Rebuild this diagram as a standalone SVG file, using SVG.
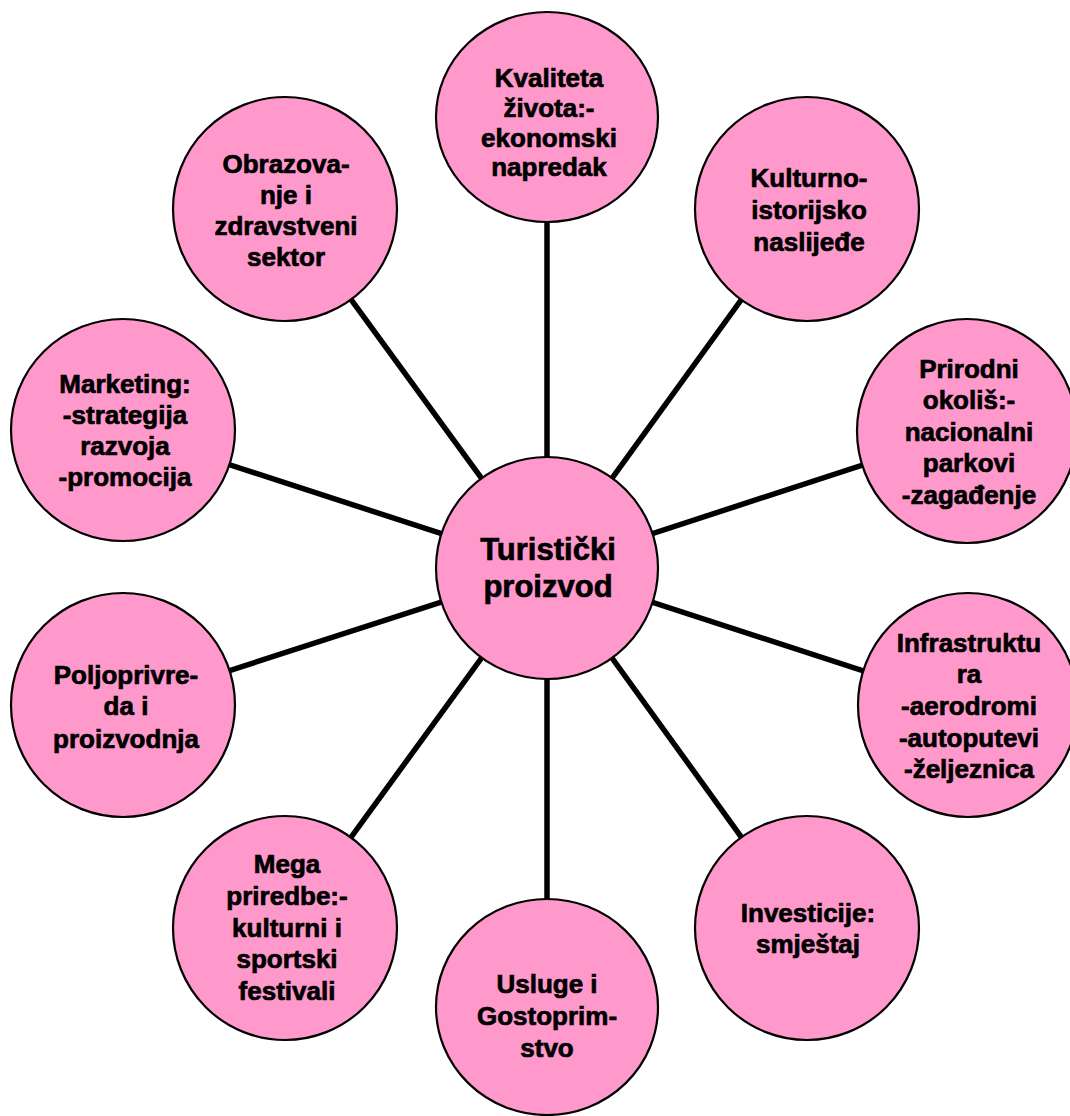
<svg xmlns="http://www.w3.org/2000/svg" width="1070" height="1116" viewBox="0 0 1070 1116">
<style>
.node{fill:#FF99CC;stroke:#000;stroke-width:2.2}
.lbl{font-family:"Liberation Sans",Arial,sans-serif;font-weight:bold;font-size:26px;fill:#000;stroke:#000;stroke-width:0.7;text-anchor:middle}
.big{font-size:31px}
.conn line{stroke:#000;stroke-width:5.5}
</style>
<rect width="1070" height="1116" fill="#fff"/>
<g id="connectors" class="conn">
<line x1="547" y1="568" x2="547" y2="117"/>
<line x1="547" y1="568" x2="807" y2="209"/>
<line x1="547" y1="568" x2="967" y2="431"/>
<line x1="547" y1="568" x2="968" y2="705"/>
<line x1="547" y1="568" x2="807" y2="928"/>
<line x1="547" y1="568" x2="547" y2="1007"/>
<line x1="547" y1="568" x2="285" y2="928"/>
<line x1="547" y1="568" x2="123" y2="705"/>
<line x1="547" y1="568" x2="123" y2="430"/>
<line x1="547" y1="568" x2="285" y2="209"/>
</g>
<g id="center">
<ellipse class="node" cx="547" cy="568" rx="111" ry="111"/>
<text class="lbl big" x="548" y="560">Turistički</text>
<text class="lbl big" x="548" y="597">proizvod</text>
</g>
<g id="kvaliteta">
<ellipse class="node" cx="547" cy="117" rx="111" ry="105"/>
<text class="lbl" x="549" y="87">Kvaliteta</text>
<text class="lbl" x="549" y="117">života:-</text>
<text class="lbl" x="549" y="147">ekonomski</text>
<text class="lbl" x="549" y="176">napredak</text>
</g>
<g id="kulturno">
<ellipse class="node" cx="807" cy="209" rx="112" ry="112"/>
<text class="lbl" x="809" y="187">Kulturno-</text>
<text class="lbl" x="809" y="219">istorijsko</text>
<text class="lbl" x="809" y="251">naslijeđe</text>
</g>
<g id="prirodni">
<ellipse class="node" cx="967" cy="431" rx="110" ry="112"/>
<text class="lbl" x="969" y="378">Prirodni</text>
<text class="lbl" x="969" y="409">okoliš:-</text>
<text class="lbl" x="969" y="441">nacionalni</text>
<text class="lbl" x="969" y="472">parkovi</text>
<text class="lbl" x="969" y="504">-zagađenje</text>
</g>
<g id="infrastruktura">
<ellipse class="node" cx="968" cy="705" rx="110" ry="112"/>
<text class="lbl" x="969" y="652">Infrastruktu</text>
<text class="lbl" x="969" y="683">ra</text>
<text class="lbl" x="969" y="715">-aerodromi</text>
<text class="lbl" x="969" y="747">-autoputevi</text>
<text class="lbl" x="969" y="778">-željeznica</text>
</g>
<g id="investicije">
<ellipse class="node" cx="807" cy="928" rx="112" ry="112"/>
<text class="lbl" x="808" y="922">Investicije:</text>
<text class="lbl" x="808" y="953">smještaj</text>
</g>
<g id="usluge">
<ellipse class="node" cx="547" cy="1007" rx="111" ry="108"/>
<text class="lbl" x="547" y="993">Usluge i</text>
<text class="lbl" x="547" y="1025">Gostoprim-</text>
<text class="lbl" x="547" y="1057">stvo</text>
</g>
<g id="mega">
<ellipse class="node" cx="285" cy="928" rx="112" ry="112"/>
<text class="lbl" x="287" y="873">Mega</text>
<text class="lbl" x="287" y="905">priredbe:-</text>
<text class="lbl" x="287" y="937">kulturni i</text>
<text class="lbl" x="287" y="968">sportski</text>
<text class="lbl" x="287" y="1000">festivali</text>
</g>
<g id="poljoprivreda">
<ellipse class="node" cx="123" cy="705" rx="112" ry="112"/>
<text class="lbl" x="126" y="684">Poljoprivre-</text>
<text class="lbl" x="126" y="715">da i</text>
<text class="lbl" x="126" y="748">proizvodnja</text>
</g>
<g id="marketing">
<ellipse class="node" cx="123" cy="430" rx="112" ry="111"/>
<text class="lbl" x="125" y="393">Marketing:</text>
<text class="lbl" x="125" y="424">-strategija</text>
<text class="lbl" x="125" y="455">razvoja</text>
<text class="lbl" x="125" y="486">-promocija</text>
</g>
<g id="obrazovanje">
<ellipse class="node" cx="285" cy="209" rx="112" ry="112"/>
<text class="lbl" x="286" y="173">Obrazova-</text>
<text class="lbl" x="286" y="204">nje i</text>
<text class="lbl" x="286" y="235">zdravstveni</text>
<text class="lbl" x="286" y="266">sektor</text>
</g>
</svg>
